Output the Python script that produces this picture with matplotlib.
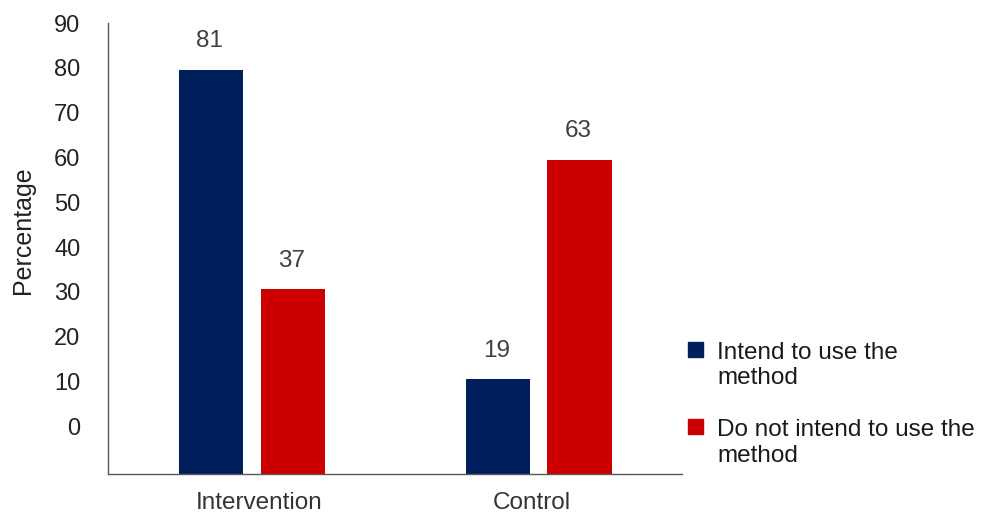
import matplotlib.pyplot as plt
import numpy as np
from matplotlib.patches import Rectangle

groups = ['Intervention', 'Control']
series = ['Intend to use the\nmethod', 'Do not intend to use the\nmethod']
intend = [81, 19]
not_intend = [37, 63]
colors = ['#001F5C', '#CC0000']
y_tick_labels = ['0', '10', '20', '30', '40', '50', '60', '70', '80', '90']

plt.rcParams['font.family'] = ['Liberation Sans', 'DejaVu Sans']

fig = plt.figure(figsize=(10.03, 5.14), dpi=100)
ax = fig.add_axes([0.108, 0.0778, 0.572, 0.877])

x = np.arange(len(groups))
w = 0.224
off = 0.1425
b1 = ax.bar(x - off, intend, w, color=colors[0])
b2 = ax.bar(x + off, not_intend, w, color=colors[1])

# value labels above bars
for bars, vals in ((b1, intend), (b2, not_intend)):
    for r, v in zip(bars, vals):
        ax.annotate(str(v), (r.get_x() + r.get_width() / 2, r.get_height()),
                    xytext=(-1, 20.5), textcoords='offset points',
                    ha='center', va='center', fontsize=17.5, color='#404040')

ax.set_xlim(-0.5, 1.5)
ax.set_ylim(0, 90.1)

# the original chart's y labels sit offset from the bar scale
tick_base, tick_step = 9.6, 8.97
ax.set_yticks([tick_base + tick_step * i for i in range(len(y_tick_labels))])
ax.set_yticklabels(y_tick_labels)
ax.tick_params(axis='y', length=0, pad=20, labelsize=17, labelcolor='#222222')

ax.set_xticks([0.027, 0.975])
ax.set_xticklabels(groups)
ax.tick_params(axis='x', length=0, pad=13, labelsize=17.5, labelcolor='#333333')

ax.set_ylabel('Percentage', fontsize=18, color='#222222')
ax.yaxis.set_label_coords(-0.128, 0.541)

for s in ['top', 'right']:
    ax.spines[s].set_visible(False)
for s in ['left', 'bottom']:
    ax.spines[s].set_color('#595959')
    ax.spines[s].set_linewidth(1.0)

# legend drawn by hand so the square lines up with the first text line
W, H = 1003.0, 514.0
for i, (lab, c) in enumerate(zip(series, colors)):
    top_y = 349 + 77 * i
    fig.patches.append(Rectangle((688 / W, 1 - (top_y + 7.5) / H), 15 / W, 15 / H,
                                 transform=fig.transFigure, color=c, figure=fig))
    # baseline alignment of multi-line text uses the last line
    fig.text(717 / W, 1 - (top_y + 35.5) / H, lab, fontsize=17.5, color='#1a1a1a',
             ha='left', va='baseline', linespacing=1.22)

fig.savefig('out.png', dpi=100)
